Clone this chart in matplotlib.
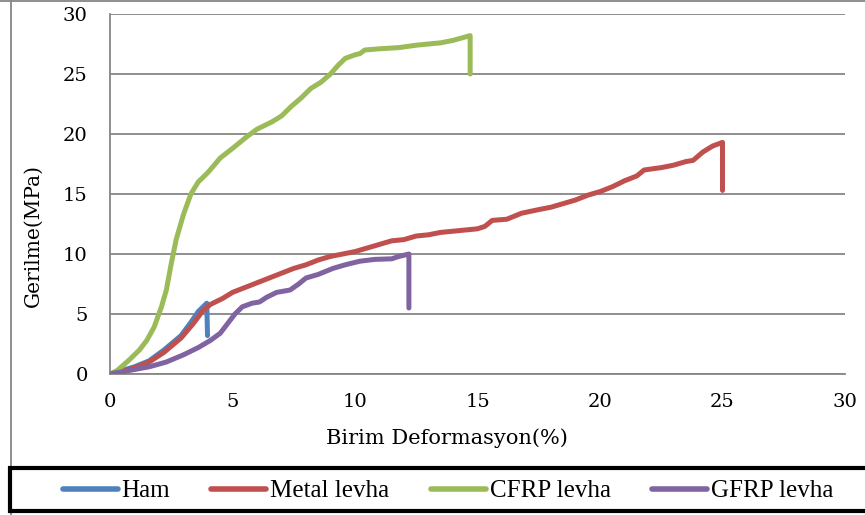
import matplotlib
matplotlib.use("Agg")
import matplotlib.pyplot as plt
from matplotlib.patches import Rectangle
from matplotlib.lines import Line2D

plt.rcParams['font.family'] = ['DejaVu Serif']

ham_x = [0, 0.5, 1.0, 1.6, 2.2, 2.9, 3.3, 3.6, 3.95, 3.98]
ham_y = [0, 0.3, 0.6, 1.1, 2.0, 3.2, 4.3, 5.2, 5.9, 3.2]

metal_x = [0, 1.0, 1.6, 2.2, 2.9, 3.4, 3.8, 4.1, 4.6, 5.0, 5.5, 6.0, 6.5, 7.0, 7.5, 8.0,
           8.5, 9.0, 9.5, 10, 10.5, 11, 11.5, 12, 12.5, 13, 13.5, 14, 14.5, 15, 15.3,
           15.6, 16.2, 16.8, 17.5, 18, 18.5, 19, 19.5, 20, 20.5, 21, 21.5, 21.8, 22.5,
           23, 23.5, 23.8, 24.2, 24.6, 25.0, 25.0]
metal_y = [0, 0.5, 1.0, 1.8, 3.0, 4.2, 5.3, 5.8, 6.3, 6.8, 7.2, 7.6, 8.0, 8.4, 8.8, 9.1,
           9.5, 9.8, 10.0, 10.2, 10.5, 10.8, 11.1, 11.2, 11.5, 11.6, 11.8, 11.9, 12.0,
           12.1, 12.3, 12.8, 12.9, 13.4, 13.7, 13.9, 14.2, 14.5, 14.9, 15.2, 15.6, 16.1,
           16.5, 17.0, 17.2, 17.4, 17.7, 17.8, 18.5, 19.0, 19.3, 15.3]

cfrp_x = [0, 0.3, 0.8, 1.2, 1.5, 1.8, 2.1, 2.3, 2.5, 2.7, 3.0, 3.3, 3.6, 4.0, 4.5, 5.0,
          5.6, 6.0, 6.6, 7.0, 7.4, 7.8, 8.2, 8.6, 9.0, 9.3, 9.6, 10.0, 10.2, 10.4, 11.0,
          11.8, 12.5, 13.0, 13.5, 14.0, 14.7, 14.7]
cfrp_y = [0, 0.3, 1.2, 2.0, 2.8, 3.9, 5.6, 7.0, 9.2, 11.2, 13.3, 15.0, 16.0, 16.8, 18.0,
          18.8, 19.8, 20.4, 21.0, 21.5, 22.3, 23.0, 23.8, 24.3, 25.0, 25.7, 26.3, 26.6,
          26.7, 27.0, 27.1, 27.2, 27.4, 27.5, 27.6, 27.8, 28.2, 25.0]

gfrp_x = [0, 0.8, 1.6, 2.3, 3.0, 3.6, 4.1, 4.5, 4.8, 5.1, 5.4, 5.8, 6.1, 6.4, 6.8, 7.35,
          7.7, 8.0, 8.5, 9.1, 9.6, 10.2, 10.8, 11.5, 11.8, 12.2, 12.2]
gfrp_y = [0, 0.3, 0.6, 1.0, 1.6, 2.2, 2.8, 3.4, 4.2, 5.0, 5.6, 5.9, 6.0, 6.4, 6.8, 7.0,
          7.5, 8.0, 8.3, 8.8, 9.1, 9.4, 9.55, 9.6, 9.8, 10.0, 5.5]

labels = ["Ham", "Metal levha", "CFRP levha", "GFRP levha"]
colors = ["#4F81BD", "#C0504D", "#9BBB59", "#8064A2"]
xticks = [0, 5, 10, 15, 20, 25, 30]
yticks = [0, 5, 10, 15, 20, 25, 30]

fig = plt.figure(figsize=(8.65, 5.15), dpi=100)
ax = fig.add_axes([110/865, 141/515, 735/865, 360/515])

series = [(ham_x, ham_y), (metal_x, metal_y), (cfrp_x, cfrp_y), (gfrp_x, gfrp_y)]
handles = []
for (xs, ys), lab, c in zip(series, labels, colors):
    h, = ax.plot(xs, ys, color=c, lw=3.6, solid_capstyle='round',
                 solid_joinstyle='round', label=lab, zorder=3)
    handles.append(h)

ax.set_xlim(0, 30)
ax.set_ylim(0, 30)
ax.set_xticks(xticks)
ax.set_yticks(yticks)
ax.grid(axis='y', color='#868686', lw=1.3)
ax.set_axisbelow(True)
for s in ['top', 'right']:
    ax.spines[s].set_visible(False)
for s in ['left', 'bottom']:
    ax.spines[s].set_color('#868686')
    ax.spines[s].set_linewidth(1.3)
ax.tick_params(axis='both', length=0, labelsize=14)
ax.tick_params(axis='y', pad=16)
ax.tick_params(axis='x', pad=14)

ax.set_xlabel("Birim Deformasyon(%)", fontsize=15)
ax.set_ylabel("Gerilme(MPa)", fontsize=14.5)
ax.xaxis.set_label_coords(0.4585, -0.15)
ax.yaxis.set_label_coords(-0.091, 0.386)

# outer frame lines
fig.add_artist(Line2D([11/865, 11/865], [0, 1], color='#868686', lw=1.3, transform=fig.transFigure))
fig.add_artist(Line2D([0, 1], [1 - 1/515, 1 - 1/515], color='#868686', lw=1.3, transform=fig.transFigure))

# legend box
fig.add_artist(Rectangle((10/865, 4/515), 870/865, 43/515, transform=fig.transFigure,
                         fill=True, facecolor='white', edgecolor='black', lw=3, zorder=5))
leg = fig.legend(handles=handles, labels=labels, loc='center', ncol=4,
                 bbox_to_anchor=(448/865, 24/515), frameon=False,
                 prop={'family': 'Liberation Serif', 'size': 18},
                 handlelength=2.2, handletextpad=0.16, columnspacing=1.65,
                 borderpad=0, borderaxespad=0)
leg.set_zorder(6)
for lh in leg.get_lines():
    lh.set_linewidth(4)
    lh.set_solid_capstyle('round')

fig.savefig("out.png", dpi=100)
